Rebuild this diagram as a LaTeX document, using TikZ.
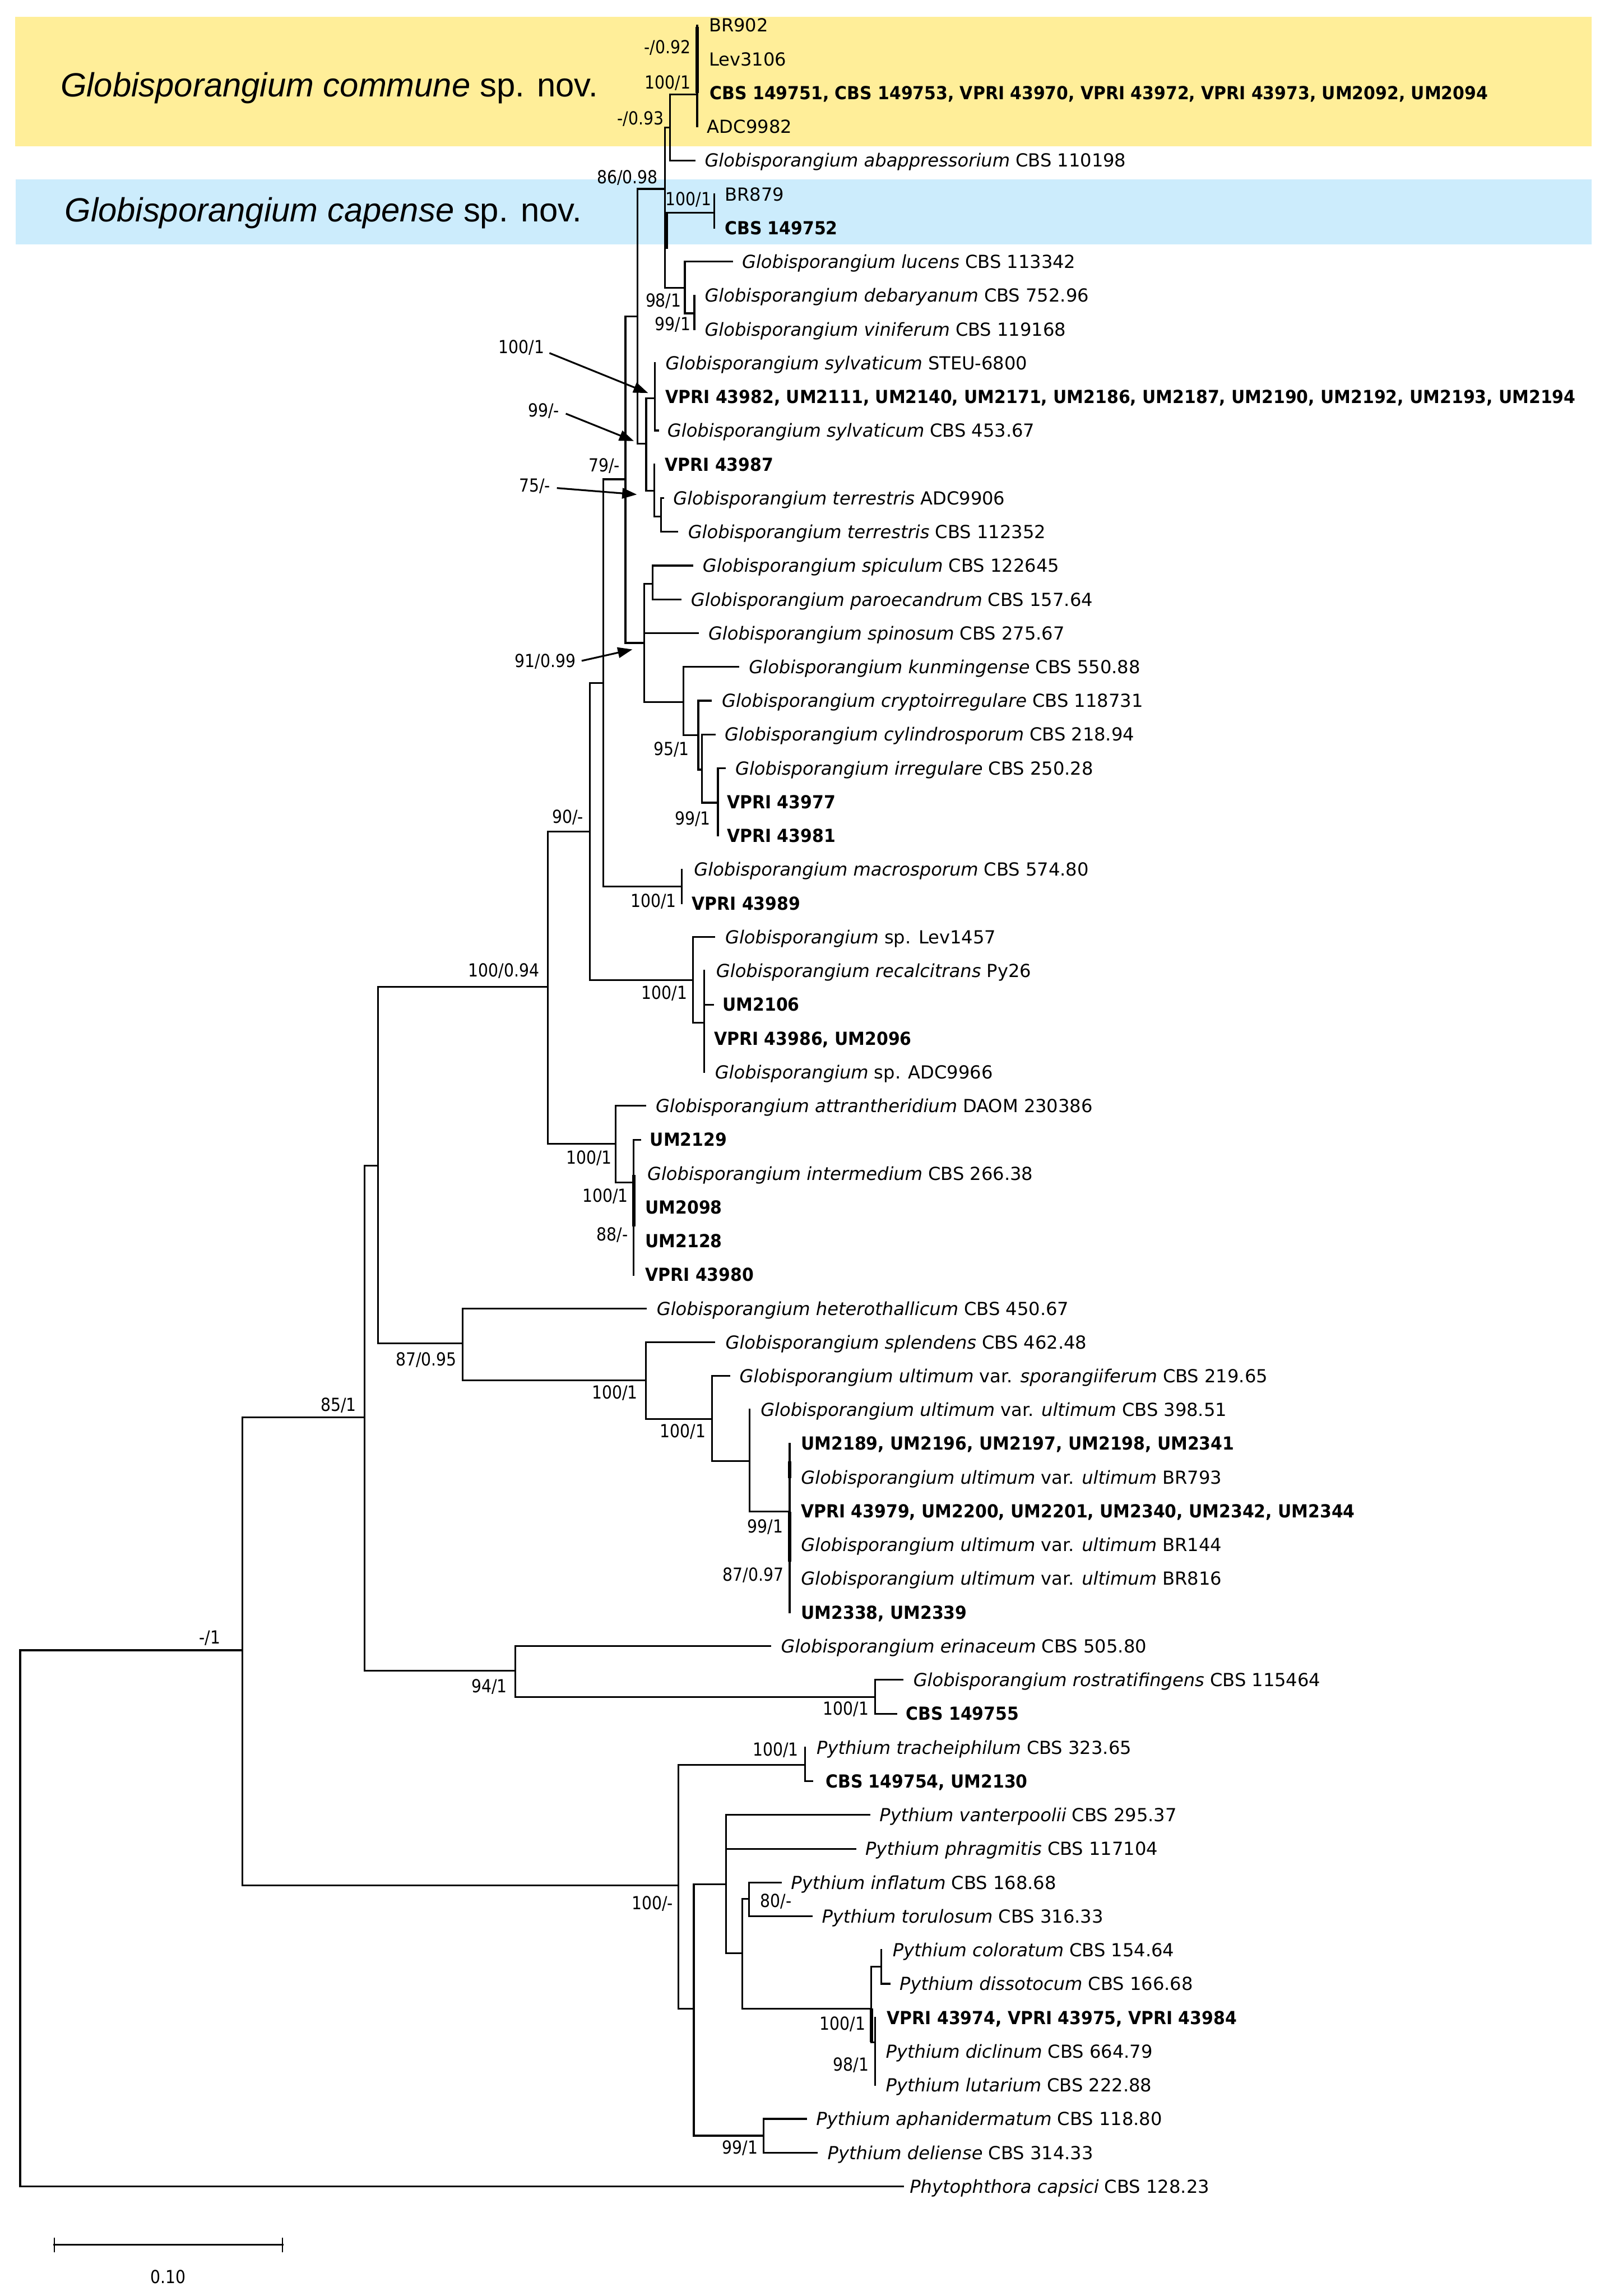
\documentclass[tikz,border=0pt]{standalone}
\usepackage{fontspec}
\setmainfont{DejaVu Sans}[BoldFeatures={FakeStretch=0.93}]
\newfontfamily\titlefont{Liberation Sans}
\newfontfamily\supfont{DejaVu Sans}[FakeStretch=0.88]
\usetikzlibrary{arrows.meta}
\definecolor{commyel}{HTML}{FFEE99}
\definecolor{capblue}{HTML}{CCECFC}
\newcommand\LY[1]{17.3+(#1-1)*23.06}
\newcommand\tipat[2]{\coordinate (l#1) at (#2,{\LY{#1}});}
\newcommand\lfnode[3]{\node[lf] (t#1) at (#2,{\LY{#1}+4.5}) {#3};}
\newcommand\suplab[4]{\node[sup] (#1) at (#2,#3+4.4) {#4};}
\tikzset{
  br/.style={line width=0.6pt, line cap=rect, line join=miter},
  thickbr/.style={line width=1.2pt},
  lf/.style={anchor=base west, inner sep=0pt, font=\fontsize{6.15}{7}\selectfont},
  sup/.style={anchor=base east, inner sep=0pt, font=\supfont\fontsize{6.15}{7}\selectfont},
  ttl/.style={anchor=base west, inner sep=0pt, font=\titlefont\fontsize{11.45}{13}\selectfont},
  arr/.style={line width=0.6pt, -{Triangle[length=5pt,width=3.6pt]}}
}
\begin{document}
\begin{tikzpicture}[x=0.5pt,y=-0.5pt]
\useasboundingbox (0,0) rectangle (1099,1568);
\fill[white] (0,0) rectangle (1099,1568);
% highlight boxes
\fill[commyel] (10.4,11.3) rectangle (1087,99.8);
\fill[capblue] (10.9,122.5) rectangle (1087,167);
\node[ttl] (tcom) at (41,66.2) {\itshape Globisporangium commune\upshape\ sp. nov.};
\node[ttl] (tcap) at (43.8,151.5) {\itshape Globisporangium capense\upshape\ sp. nov.};

% internal nodes
\coordinate (root) at (13.8,1127);
\coordinate (nA) at (165.6,1127);
\coordinate (nB) at (249,968);
\coordinate (nC) at (258.2,796);
\coordinate (nD) at (374.2,674);
\coordinate (nF) at (316.1,917.5);
\coordinate (nG) at (403,567.9);
\coordinate (nH) at (420.6,781);
\coordinate (nJ) at (412.2,466.5);
\coordinate (nK) at (473.3,669.3);
\coordinate (nL) at (427.2,327.3);
\coordinate (nM) at (465.7,605.5);
\coordinate (nN) at (435.5,216);
\coordinate (nO) at (440.2,439.1);
\coordinate (nP) at (454.2,129);
\coordinate (nQ) at (441.4,303.1);
\coordinate (nR) at (457.8,87);
\coordinate (nS) at (488,145.3);
\coordinate (nT) at (467.8,196.6);
\coordinate (nU) at (476.2,64.5);
\coordinate (nV) at (474.3,214);
\coordinate (nW) at (447.2,272);
\coordinate (nX) at (447,335);
\coordinate (nY) at (451.6,352.8);
\coordinate (nZ) at (445.9,398.6);
\coordinate (nAA) at (466.7,479.4);
\coordinate (nAB) at (477,502);
\coordinate (nAC) at (479.6,525.6);
\coordinate (nAD) at (490.4,548.2);
\coordinate (nAE) at (480.9,698.4);
\coordinate (nAF) at (432.9,807.6);
\coordinate (nAG) at (441.1,942.6);
\coordinate (nAH) at (486.4,969.1);
\coordinate (nAI) at (512,997.8);
\coordinate (nAJ) at (539.4,1032.4);
\coordinate (nE) at (352,1141);
\coordinate (nAK) at (597.7,1159);
\coordinate (nAL) at (463.3,1287.5);
\coordinate (nAM) at (550,1205.2);
\coordinate (nAN) at (473.9,1371.7);
\coordinate (nAO) at (495.8,1286.8);
\coordinate (nAP) at (521.6,1458.5);
\coordinate (nAQ) at (507,1333.9);
\coordinate (nAR) at (511.7,1296.9);
\coordinate (nAS) at (595.2,1371.7);
\coordinate (nAT) at (602.1,1343);
\coordinate (nAU) at (597.7,1394.6);

% leaf tips
\tipat{1}{476.2}\tipat{2}{476.2}\tipat{3}{476.2}\tipat{4}{476.2}
\tipat{5}{474.5}\tipat{6}{488}\tipat{7}{488}\tipat{8}{500}
\tipat{9}{474.3}\tipat{10}{474.3}\tipat{11}{447.2}\tipat{12}{447.2}
\tipat{13}{449.5}\tipat{14}{447}\tipat{15}{453}\tipat{16}{462.5}
\tipat{17}{473.1}\tipat{18}{465}\tipat{19}{476.7}\tipat{20}{504.4}
\tipat{21}{485.5}\tipat{22}{488.2}\tipat{23}{495.2}\tipat{24}{490.4}
\tipat{25}{490.4}\tipat{26}{465.7}\tipat{27}{465.7}\tipat{28}{487.9}
\tipat{29}{480.9}\tipat{30}{487}\tipat{31}{480.9}\tipat{32}{480.9}
\tipat{33}{440.8}\tipat{34}{437.5}\tipat{35}{432.9}\tipat{36}{432.9}
\tipat{37}{432.9}\tipat{38}{432.9}\tipat{39}{441.3}\tipat{40}{488}
\tipat{41}{498.2}\tipat{42}{512}\tipat{43}{539.4}\tipat{44}{539.4}
\tipat{45}{539.4}\tipat{46}{539.4}\tipat{47}{539.4}\tipat{48}{539.4}
\tipat{49}{526.3}\tipat{50}{616.5}\tipat{51}{612.1}\tipat{52}{550}
\tipat{53}{554.7}\tipat{54}{593.8}\tipat{55}{584.4}\tipat{56}{533.3}
\tipat{57}{554.4}\tipat{58}{602.1}\tipat{59}{607.8}\tipat{60}{597.7}
\tipat{61}{597.7}\tipat{62}{597.7}\tipat{63}{550.5}\tipat{64}{557.9}
\tipat{65}{617}

% branches
\draw[br] (root) |- (nA);
\draw[br] (root) |- (l65);
\draw[br] (nA) |- (nB);
\draw[br] (nA) |- (nAL);
\draw[br] (nB) |- (nC);
\draw[br] (nB) |- (nE);
\draw[br] (nC) |- (nD);
\draw[br] (nC) |- (nF);
\draw[br] (nD) |- (nG);
\draw[br] (nD) |- (nH);
\draw[br] (nG) |- (nJ);
\draw[br] (nG) |- (nK);
\draw[br] (nJ) |- (nL);
\draw[br] (nJ) |- (nM);
\draw[br] (nL) |- (nN);
\draw[br] (nL) |- (nO);
\draw[br] (nN) |- (nP);
\draw[br] (nN) |- (nQ);
\draw[br] (nP) |- (nR);
\draw[br] (nP) |- (nS);
\draw[br] (nP) |- (nT);
\draw[br] (nR) |- (nU);
\draw[br] (nR) |- (l5);
\foreach \i in {1,2,3,4} {\draw[br] (nU) |- (l\i);}
\draw[br] (nS) |- (l6);
\draw[br] (nS) |- (l7);
\draw[br] (nT) |- (l8);
\draw[br] (nT) |- (nV);
\draw[br] (nV) |- (l9);
\draw[br] (nV) |- (l10);
\draw[br] (nQ) |- (nW);
\draw[br] (nQ) |- (nX);
\foreach \i in {11,12,13} {\draw[br] (nW) |- (l\i);}
\draw[br] (nX) |- (l14);
\draw[br] (nX) |- (nY);
\draw[br] (nY) |- (l15);
\draw[br] (nY) |- (l16);
\draw[br] (nO) |- (nZ);
\draw[br] (nO) |- (l19);
\draw[br] (nO) |- (nAA);
\draw[br] (nZ) |- (l17);
\draw[br] (nZ) |- (l18);
\draw[br] (nAA) |- (l20);
\draw[br] (nAA) |- (nAB);
\draw[br] (nAB) |- (l21);
\draw[br] (nAB) |- (nAC);
\draw[br] (nAC) |- (l22);
\draw[br] (nAC) |- (nAD);
\foreach \i in {23,24,25} {\draw[br] (nAD) |- (l\i);}
\draw[br] (nM) |- (l26);
\draw[br] (nM) |- (l27);
\draw[br] (nK) |- (l28);
\draw[br] (nK) |- (nAE);
\foreach \i in {29,30,31,32} {\draw[br] (nAE) |- (l\i);}
\draw[br] (nH) |- (l33);
\draw[br] (nH) |- (nAF);
\foreach \i in {34,35,36,37,38} {\draw[br] (nAF) |- (l\i);}
\draw[br] (nF) |- (l39);
\draw[br] (nF) |- (nAG);
\draw[br] (nAG) |- (l40);
\draw[br] (nAG) |- (nAH);
\draw[br] (nAH) |- (l41);
\draw[br] (nAH) |- (nAI);
\draw[br] (nAI) |- (l42);
\draw[br] (nAI) |- (nAJ);
\foreach \i in {43,44,45,46,47,48} {\draw[br] (nAJ) |- (l\i);}
\draw[br] (nE) |- (l49);
\draw[br] (nE) |- (nAK);
\draw[br] (nAK) |- (l50);
\draw[br] (nAK) |- (l51);
\draw[br] (nAL) |- (nAM);
\draw[br] (nAL) |- (nAN);
\draw[br] (nAM) |- (l52);
\draw[br] (nAM) |- (l53);
\draw[br] (nAN) |- (nAO);
\draw[br] (nAN) |- (nAP);
\draw[br] (nAO) |- (l54);
\draw[br] (nAO) |- (l55);
\draw[br] (nAO) |- (nAQ);
\draw[br] (nAQ) |- (nAR);
\draw[br] (nAQ) |- (nAS);
\draw[br] (nAR) |- (l56);
\draw[br] (nAR) |- (l57);
\draw[br] (nAS) |- (nAT);
\draw[br] (nAS) |- (nAU);
\draw[br] (nAT) |- (l58);
\draw[br] (nAT) |- (l59);
\foreach \i in {60,61,62} {\draw[br] (nAU) |- (l\i);}
\draw[br] (nAP) |- (l63);
\draw[br] (nAP) |- (l64);

% heavier overlapping segments
\draw[thickbr] ([yshift=11pt]l2) -- (l3);
\draw[thickbr] ([xshift=0.5pt]nS -| nP) -- ++(0,24.5);
\draw[thickbr] ([yshift=-0.5pt]l35) -- (l36) -- ++(0,13);
\draw[thickbr] (nAI -| nAJ) -- ++(0,11.7);
\draw[thickbr] (nAJ) -- ++(0,34.2);
\draw[thickbr] (nAS) -- ++(0,23);

% leaf labels
\lfnode{1}{483.9}{BR902}
\lfnode{2}{483.9}{Lev3106}
\lfnode{3}{484.5}{\bfseries CBS 149751, CBS 149753, VPRI 43970, VPRI 43972, VPRI 43973, UM2092, UM2094}
\lfnode{4}{482.7}{ADC9982}
\lfnode{5}{481}{\textit{Globisporangium abappressorium} CBS 110198}
\lfnode{6}{494.7}{BR879}
\lfnode{7}{494.7}{\bfseries CBS 149752}
\lfnode{8}{506.5}{\textit{Globisporangium lucens} CBS 113342}
\lfnode{9}{481}{\textit{Globisporangium debaryanum} CBS 752.96}
\lfnode{10}{481}{\textit{Globisporangium viniferum} CBS 119168}
\lfnode{11}{454.2}{\textit{Globisporangium sylvaticum} STEU-6800}
\lfnode{12}{454.2}{\bfseries VPRI 43982, UM2111, UM2140, UM2171, UM2186, UM2187, UM2190, UM2192, UM2193, UM2194}
\lfnode{13}{455.5}{\textit{Globisporangium sylvaticum} CBS 453.67}
\lfnode{14}{453.8}{\bfseries VPRI 43987}
\lfnode{15}{459.5}{\textit{Globisporangium terrestris} ADC9906}
\lfnode{16}{469.6}{\textit{Globisporangium terrestris} CBS 112352}
\lfnode{17}{479.6}{\textit{Globisporangium spiculum} CBS 122645}
\lfnode{18}{471.6}{\textit{Globisporangium paroecandrum} CBS 157.64}
\lfnode{19}{483.5}{\textit{Globisporangium spinosum} CBS 275.67}
\lfnode{20}{511.2}{\textit{Globisporangium kunmingense} CBS 550.88}
\lfnode{21}{492.7}{\textit{Globisporangium cryptoirregulare} CBS 118731}
\lfnode{22}{494.6}{\textit{Globisporangium cylindrosporum} CBS 218.94}
\lfnode{23}{501.9}{\textit{Globisporangium irregulare} CBS 250.28}
\lfnode{24}{496.2}{\bfseries VPRI 43977}
\lfnode{25}{496.2}{\bfseries VPRI 43981}
\lfnode{26}{473.7}{\textit{Globisporangium macrosporum} CBS 574.80}
\lfnode{27}{472.2}{\bfseries VPRI 43989}
\lfnode{28}{495}{\textit{Globisporangium} sp. Lev1457}
\lfnode{29}{488.8}{\textit{Globisporangium recalcitrans} Py26}
\lfnode{30}{493.2}{\bfseries UM2106}
\lfnode{31}{487.4}{\bfseries VPRI 43986, UM2096}
\lfnode{32}{488}{\textit{Globisporangium} sp. ADC9966}
\lfnode{33}{447.5}{\textit{Globisporangium attrantheridium} DAOM 230386}
\lfnode{34}{443.6}{\bfseries UM2129}
\lfnode{35}{441.8}{\textit{Globisporangium intermedium} CBS 266.38}
\lfnode{36}{440.4}{\bfseries UM2098}
\lfnode{37}{440.4}{\bfseries UM2128}
\lfnode{38}{440.4}{\bfseries VPRI 43980}
\lfnode{39}{448.2}{\textit{Globisporangium heterothallicum} CBS 450.67}
\lfnode{40}{495.2}{\textit{Globisporangium splendens} CBS 462.48}
\lfnode{41}{504.8}{\textit{Globisporangium ultimum} var. \textit{sporangiiferum} CBS 219.65}
\lfnode{42}{519.2}{\textit{Globisporangium ultimum} var. \textit{ultimum} CBS 398.51}
\lfnode{43}{546.8}{\bfseries UM2189, UM2196, UM2197, UM2198, UM2341}
\lfnode{44}{546.8}{\textit{Globisporangium ultimum} var. \textit{ultimum} BR793}
\lfnode{45}{546.8}{\bfseries VPRI 43979, UM2200, UM2201, UM2340, UM2342, UM2344}
\lfnode{46}{546.8}{\textit{Globisporangium ultimum} var. \textit{ultimum} BR144}
\lfnode{47}{546.8}{\textit{Globisporangium ultimum} var. \textit{ultimum} BR816}
\lfnode{48}{546.8}{\bfseries UM2338, UM2339}
\lfnode{49}{533.1}{\textit{Globisporangium erinaceum} CBS 505.80}
\lfnode{50}{623.5}{\textit{Globisporangium rostratifingens} CBS 115464}
\lfnode{51}{618.5}{\bfseries CBS 149755}
\lfnode{52}{557.4}{\textit{Pythium tracheiphilum} CBS 323.65}
\lfnode{53}{563.6}{\bfseries CBS 149754, UM2130}
\lfnode{54}{600.4}{\textit{Pythium vanterpoolii} CBS 295.37}
\lfnode{55}{590.7}{\textit{Pythium phragmitis} CBS 117104}
\lfnode{56}{539.9}{\textit{Pythium inflatum} CBS 168.68}
\lfnode{57}{561}{\textit{Pythium torulosum} CBS 316.33}
\lfnode{58}{609.4}{\textit{Pythium coloratum} CBS 154.64}
\lfnode{59}{614.1}{\textit{Pythium dissotocum} CBS 166.68}
\lfnode{60}{605.5}{\bfseries VPRI 43974, VPRI 43975, VPRI 43984}
\lfnode{61}{604.7}{\textit{Pythium diclinum} CBS 664.79}
\lfnode{62}{604.7}{\textit{Pythium lutarium} CBS 222.88}
\lfnode{63}{557.1}{\textit{Pythium aphanidermatum} CBS 118.80}
\lfnode{64}{564.9}{\textit{Pythium deliense} CBS 314.33}
\lfnode{65}{621}{\textit{Phytophthora capsici} CBS 128.23}

% support values
\suplab{s1}{472.2}{32.2}{-/0.92}
\suplab{s2}{472.2}{56.3}{100/1}
\suplab{s3}{453.7}{80.6}{-/0.93}
\suplab{s4}{449.7}{120.8}{86/0.98}
\suplab{s5}{486.3}{135.8}{100/1}
\suplab{s6}{465.7}{205.2}{98/1}
\suplab{s7}{472.2}{221.3}{99/1}
\suplab{s8}{372.2}{236.8}{100/1}
\suplab{s9}{382.5}{280.1}{99/-}
\suplab{s10}{423.8}{317.7}{79/-}
\suplab{s11}{376.3}{331.7}{75/-}
\suplab{s12}{393.7}{451.3}{91/0.99}
\suplab{s13}{471.2}{511.6}{95/1}
\suplab{s14}{485.8}{558.9}{99/1}
\suplab{s15}{398.9}{557.8}{90/-}
\suplab{s16}{462.4}{615.2}{100/1}
\suplab{s17}{368.8}{662.8}{100/0.94}
\suplab{s18}{469.8}{677.8}{100/1}
\suplab{s19}{418.4}{790.4}{100/1}
\suplab{s20}{429.4}{816.7}{100/1}
\suplab{s21}{429.4}{843.1}{88/-}
\suplab{s22}{312.3}{928.2}{87/0.95}
\suplab{s23}{243.7}{959.5}{85/1}
\suplab{s24}{436}{951}{100/1}
\suplab{s25}{482.5}{977.4}{100/1}
\suplab{s26}{535.3}{1042.5}{99/1}
\suplab{s27}{535.6}{1075.5}{87/0.97}
\suplab{s28}{150.9}{1118.1}{-/1}
\suplab{s29}{346.7}{1151.5}{94/1}
\suplab{s30}{593.8}{1166.9}{100/1}
\suplab{s31}{545.8}{1194.9}{100/1}
\suplab{s32}{460.2}{1299.5}{100/-}
\suplab{s33}{541.1}{1298}{80/-}
\suplab{s34}{591.5}{1381.8}{100/1}
\suplab{s35}{593.8}{1409.7}{98/1}
\suplab{s36}{518}{1466.7}{99/1}

% arrows from labels to nodes
\coordinate (a1s) at (375.3,241.1); \coordinate (a1e) at (442.7,268.4);
\coordinate (a2s) at (386.5,282.5); \coordinate (a2e) at (433,301.2);
\coordinate (a3s) at (380.4,333.3); \coordinate (a3e) at (435,337.7);
\coordinate (a4s) at (397.3,451.3); \coordinate (a4e) at (432,443.5);
\draw[arr] (a1s) -- (a1e);
\draw[arr] (a2s) -- (a2e);
\draw[arr] (a3s) -- (a3e);
\draw[arr] (a4s) -- (a4e);

% scale bar
\coordinate (sb1) at (37,1533);
\coordinate (sb2) at (193,1533);
\draw[br] (sb1) -- (sb2);
\draw[line width=0.4pt] ([yshift=2.5pt]sb1) -- ([yshift=-2.5pt]sb1);
\draw[line width=0.4pt] ([yshift=2.5pt]sb2) -- ([yshift=-2.5pt]sb2);
\node[sup, anchor=base] (sblab) at (115,1559.5) {0.10};
\end{tikzpicture}
\end{document}
